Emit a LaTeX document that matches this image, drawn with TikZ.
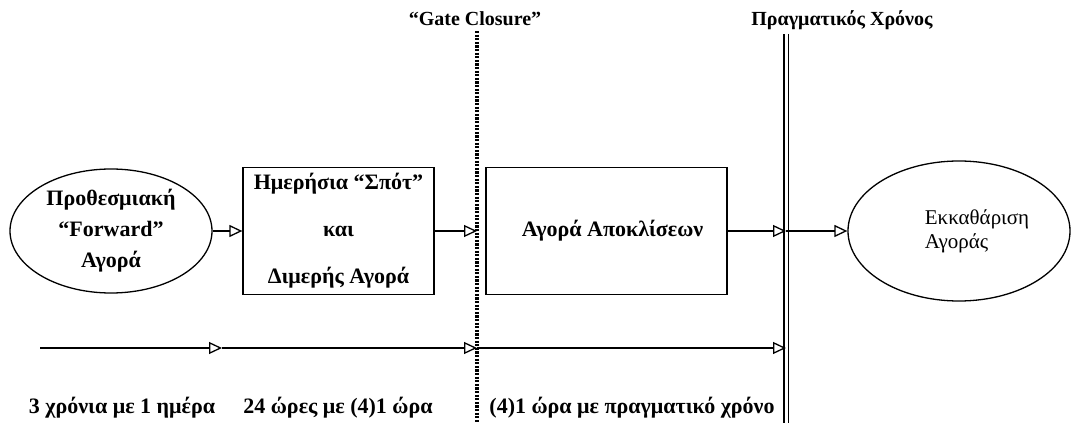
\documentclass[tikz,border=0pt]{standalone}
\usepackage{fontspec}
\setmainfont{Liberation Serif}
\usetikzlibrary{arrows.meta,shapes}
\tikzstyle{block} = [rectangle, draw, line width=1.3pt, align=center,
    minimum height=127pt]
\tikzstyle{market} = [ellipse, draw, line width=1.3pt, align=center]
\tikzstyle{tag} = [inner sep=0pt, anchor=base]
\tikzstyle{gate} = [line width=4pt, dash pattern=on 2.2pt off 1.4pt]

\begin{document}
\begin{tikzpicture}[->,>={Triangle[open,length=13pt,width=12pt]},x=1pt,y=1pt,
                    line width=1.3pt,
                    font=\fontsize{22}{26}\selectfont\bfseries]
  \useasboundingbox (0,0) rectangle (1072,423);
  \node[market, minimum width=202pt, minimum height=124pt, inner sep=0pt] (fwd) at (111,192) {Προθεσμιακή\\[5pt]“Forward”\\[5pt]Αγορά};
  \node[block, minimum width=191pt] (spot) at (338.5,192) {Ημερήσια “Σπότ”\\[21pt]και\\[21pt]Διμερής Αγορά};
  \node[block, minimum width=241pt] (bal) at (606.5,192) {\hspace*{12pt}Αγορά Αποκλίσεων};
  \node[market, minimum width=222pt, minimum height=140pt, align=left, inner sep=0pt,
        font=\fontsize{21}{24}\selectfont\mdseries] (clear) at (959,192) {\hspace*{36pt}Εκκαθάριση\\\hspace*{36pt}Αγοράς};

  \node[tag, font=\fontsize{20}{24}\selectfont\bfseries] (gatetxt) at (475,397) {“Gate Closure”};
  \node[tag, font=\fontsize{20}{24}\selectfont\bfseries] (realtxt) at (842,397) {Πραγματικός Χρόνος};

  \coordinate (gtop) at (477,392);
  \coordinate (gbot) at (477,0);
  \coordinate (rtop) at (786,389);
  \coordinate (rbot) at (786,0);
  \draw[-,gate] (gtop) -- (gbot);
  \draw[-,double,double distance=3pt,line width=1.1pt] (rtop) -- (rbot);

  \path (fwd) edge (spot)
        (spot) edge (spot -| gbot)
        (bal) edge (bal -| rbot)
        (bal -| rbot) edge (clear);

  % time axis
  \coordinate (tl) at (40,75);
  \coordinate (tm) at (222,75);
  \path (tl) edge (tm)
        (tm) edge (tm -| gbot)
        (tm -| gbot) edge (tm -| rbot);

  \node[tag] (ylbl) at (122,9) {3 χρόνια με 1 ημέρα};
  \node[tag] (dlbl) at (338,9) {24 ώρες με (4)1 ώρα};
  \node[tag] (hlbl) at (632,9) {(4)1 ώρα με πραγματικό χρόνο};
\end{tikzpicture}
\end{document}
